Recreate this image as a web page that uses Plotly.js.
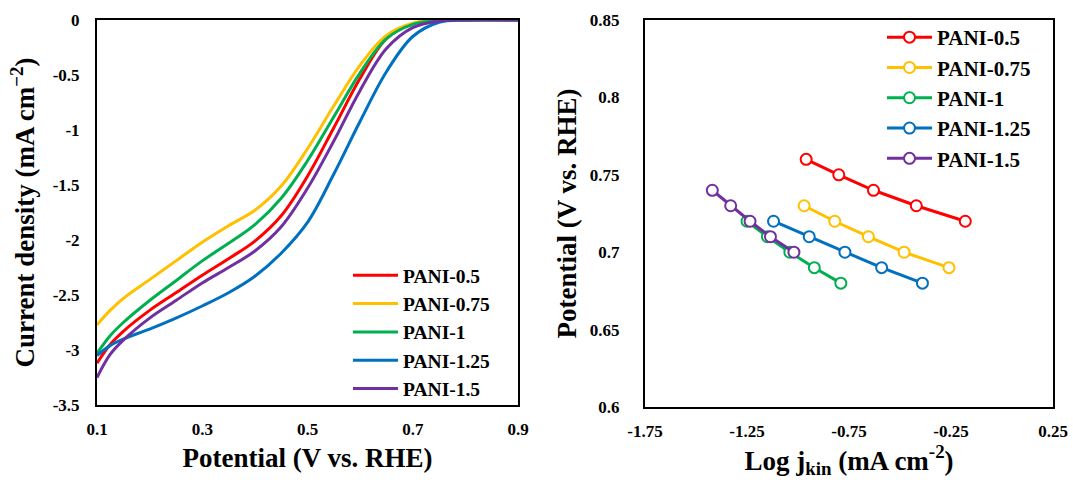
<!DOCTYPE html>
<html>
<head>
<meta charset="utf-8">
<script src="https://cdn.plot.ly/plotly-3.0.1.min.js"></script>
<style>html,body{margin:0;padding:0;background:#fff;}#chart{width:1073px;height:482px;}</style>
</head>
<body>
<div id="chart"></div>
<script>
// ---------- Left panel: LSV curves ----------
const potential = [0.10, 0.125, 0.15, 0.20, 0.25, 0.30, 0.35, 0.40, 0.45, 0.50, 0.55, 0.60, 0.65, 0.70, 0.75, 0.80, 0.90];
const jPani05  = [-3.12, -2.95, -2.83, -2.64, -2.48, -2.32, -2.17, -2.01, -1.78, -1.42, -0.98, -0.53, -0.17, -0.035, -0.003, 0, 0];
const jPani075 = [-2.77, -2.64, -2.53, -2.36, -2.19, -2.02, -1.87, -1.73, -1.51, -1.17, -0.78, -0.41, -0.14, -0.03, -0.003, 0, 0];
const jPani1   = [-3.03, -2.87, -2.75, -2.55, -2.37, -2.19, -2.03, -1.86, -1.62, -1.28, -0.88, -0.48, -0.17, -0.04, -0.005, 0, 0];
const jPani125 = [-3.05, -2.96, -2.90, -2.81, -2.71, -2.60, -2.48, -2.33, -2.12, -1.84, -1.40, -0.92, -0.47, -0.15, -0.02, 0, 0];
const jPani15  = [-3.25, -3.04, -2.91, -2.71, -2.55, -2.39, -2.25, -2.10, -1.88, -1.53, -1.10, -0.64, -0.26, -0.07, -0.01, 0, 0];

// ---------- Right panel: Tafel plots ----------
const tPotential05 = [0.76, 0.75, 0.74, 0.73, 0.72];
const tLogJ05      = [-0.96, -0.80, -0.63, -0.42, -0.18];
const tPotential075 = [0.73, 0.72, 0.71, 0.70, 0.69];
const tLogJ075      = [-0.97, -0.82, -0.655, -0.48, -0.26];
const tPotential1 = [0.72, 0.71, 0.70, 0.69, 0.68];
const tLogJ1      = [-1.25, -1.15, -1.04, -0.92, -0.79];
const tPotential125 = [0.72, 0.71, 0.70, 0.69, 0.68];
const tLogJ125      = [-1.12, -0.945, -0.77, -0.59, -0.39];
const tPotential15 = [0.74, 0.73, 0.72, 0.71, 0.70];
const tLogJ15      = [-1.42, -1.33, -1.235, -1.135, -1.02];

const seriesNames = ['PANI-0.5', 'PANI-0.75', 'PANI-1', 'PANI-1.25', 'PANI-1.5'];
const seriesColors = ['#FF0000', '#FFC000', '#00B050', '#0070C0', '#7030A0'];

// ---------- Tick labels ----------
const leftXTickVals = [0.1, 0.3, 0.5, 0.7, 0.9];
const leftXTickText = ['0.1', '0.3', '0.5', '0.7', '0.9'];
const leftYTickVals = [0, -0.5, -1, -1.5, -2, -2.5, -3, -3.5];
const leftYTickText = ['0', '-0.5', '-1', '-1.5', '-2', '-2.5', '-3', '-3.5'];
const rightXTickVals = [-1.75, -1.25, -0.75, -0.25, 0.25];
const rightXTickText = ['-1.75', '-1.25', '-0.75', '-0.25', '0.25'];
const rightYTickVals = [0.6, 0.65, 0.7, 0.75, 0.8, 0.85];
const rightYTickText = ['0.6', '0.65', '0.7', '0.75', '0.8', '0.85'];

const lsv = [jPani05, jPani075, jPani1, jPani125, jPani15];
const tafelX = [tLogJ05, tLogJ075, tLogJ1, tLogJ125, tLogJ15];
const tafelY = [tPotential05, tPotential075, tPotential1, tPotential125, tPotential15];

const traces = [];
for (let i = 0; i < 5; i++) {
  traces.push({
    x: potential, y: lsv[i], type: 'scatter', mode: 'lines',
    name: seriesNames[i], xaxis: 'x', yaxis: 'y', legend: 'legend',
    line: {color: seriesColors[i], width: 3, shape: 'spline', smoothing: 1}
  });
}
for (let i = 0; i < 5; i++) {
  traces.push({
    x: tafelX[i], y: tafelY[i], type: 'scatter', mode: 'lines+markers',
    name: seriesNames[i], xaxis: 'x2', yaxis: 'y2', legend: 'legend2',
    line: {color: seriesColors[i], width: 3},
    marker: {symbol: 'circle', size: 11, color: '#ffffff', line: {color: seriesColors[i], width: 2}}
  });
}

const FONT = 'Liberation Serif, Times New Roman, serif';
const tickFont = {family: FONT, size: 17, color: '#000', weight: 'bold'};
const titleFont = {family: FONT, size: 27, color: '#000', weight: 'bold'};
const axisBase = {
  showline: true, linecolor: '#000', linewidth: 2, mirror: true,
  showgrid: false, zeroline: false, ticks: '', tickmode: 'array',
  tickfont: tickFont, fixedrange: true
};

const layout = {
  width: 1073, height: 482,
  margin: {l: 0, r: 0, t: 0, b: 0},
  paper_bgcolor: '#fff', plot_bgcolor: '#fff',
  font: {family: FONT, color: '#000', weight: 'bold'},
  xaxis: Object.assign({}, axisBase, {
    domain: [97/1073, 518/1073], range: [0.1, 0.9], anchor: 'y',
    tickvals: leftXTickVals, ticktext: leftXTickText, ticklabelstandoff: 8,
    title: {text: 'Potential (V vs. RHE)', font: titleFont, standoff: 10}
  }),
  yaxis: Object.assign({}, axisBase, {
    domain: [1 - 405/482, 1 - 20/482], range: [-3.5, 0], anchor: 'x',
    tickvals: leftYTickVals, ticktext: leftYTickText, ticklabelstandoff: 12,
    title: {text: 'Current density (mA cm<sup>−2</sup>)', font: titleFont, standoff: 10}
  }),
  xaxis2: Object.assign({}, axisBase, {
    domain: [645/1073, 1053/1073], range: [-1.75, 0.25], anchor: 'y2',
    tickvals: rightXTickVals, ticktext: rightXTickText, ticklabelstandoff: 8,
    title: {text: 'Log j<sub>kin</sub> (mA cm<sup>-2</sup>)', font: titleFont, standoff: 6}
  }),
  yaxis2: Object.assign({}, axisBase, {
    domain: [1 - 407/482, 1 - 20/482], range: [0.6, 0.85], anchor: 'x2',
    tickvals: rightYTickVals, ticktext: rightYTickText, ticklabelstandoff: 20,
    title: {text: 'Potential (V vs. RHE)', font: titleFont, standoff: 5}
  }),
  legend: {
    x: 348/1073, y: 1 - 256/482, xanchor: 'left', yanchor: 'top',
    bgcolor: 'rgba(0,0,0,0)', font: {family: FONT, size: 19.5, color: '#000', weight: 'bold'},
    itemwidth: 45, tracegroupgap: 0, traceorder: 'normal'
  },
  legend2: {
    x: 882/1073, y: 1 - 17/482, xanchor: 'left', yanchor: 'top',
    bgcolor: 'rgba(0,0,0,0)', font: {family: FONT, size: 21, color: '#000', weight: 'bold'},
    itemwidth: 45, tracegroupgap: 0, traceorder: 'normal'
  },
  showlegend: true
};

Plotly.newPlot('chart', traces, layout, {staticPlot: true, displayModeBar: false});
</script>
</body>
</html>
